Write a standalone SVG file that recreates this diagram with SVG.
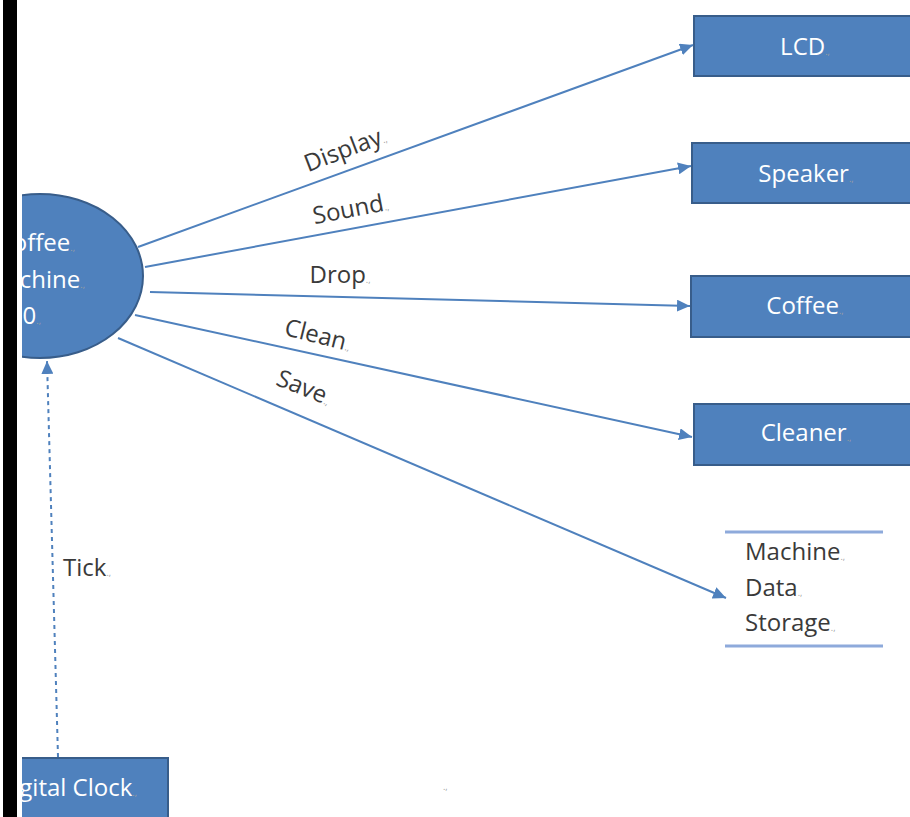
<svg xmlns="http://www.w3.org/2000/svg" width="910" height="817" viewBox="0 0 910 817">
  <style>
    .node { fill: #4F81BD; stroke: #385D8A; stroke-width: 2; }
    .ntxt { fill: #FFFFFF; font-family: "Open Sans", "Noto Sans", sans-serif; font-size: 24px; }
    .lbl { fill: #3A3A3A; font-family: "Open Sans", "Noto Sans", sans-serif; font-size: 24px; }
    .mark { fill: #A0A0A0; font-size: 9px; }
    .flow { stroke: #4F81BD; stroke-width: 2; fill: none; marker-end: url(#arrow); }
    .store { stroke: #8EAADB; stroke-width: 3; }
  </style>
  <defs>
    <marker id="arrow" markerWidth="14" markerHeight="12" refX="13" refY="6" orient="auto" markerUnits="userSpaceOnUse">
      <path d="M0,0 L13,6 L0,12 Z" fill="#4F81BD"/>
    </marker>
    <clipPath id="view">
      <rect x="22" y="0" width="888" height="817"/>
    </clipPath>
  </defs>
  <rect x="0" y="0" width="910" height="817" fill="#FFFFFF"/>

  <g clip-path="url(#view)">
    <g id="coffee-machine">
      <ellipse class="node" cx="40" cy="276" rx="103" ry="82"/>
      <text class="ntxt" x="75" y="251" text-anchor="end">Coffee<tspan class="mark">.,</tspan></text>
      <text class="ntxt" x="85" y="288" text-anchor="end">Machine<tspan class="mark">.,</tspan></text>
      <text class="ntxt" x="41" y="324" text-anchor="end">0<tspan class="mark">.,</tspan></text>
    </g>

    <g id="digital-clock">
      <rect class="node" x="-60" y="758" width="228" height="80"/>
      <text class="ntxt" x="137" y="796" text-anchor="end">Digital Clock<tspan class="mark">.,</tspan></text>
    </g>

    <g id="lcd">
      <rect class="node" x="694" y="16" width="240" height="60"/>
      <text class="ntxt" x="805" y="55" text-anchor="middle">LCD<tspan class="mark">.,</tspan></text>
    </g>
    <g id="speaker">
      <rect class="node" x="692" y="143" width="240" height="60"/>
      <text class="ntxt" x="806" y="182" text-anchor="middle">Speaker<tspan class="mark">.,</tspan></text>
    </g>
    <g id="coffee">
      <rect class="node" x="691" y="276" width="240" height="61"/>
      <text class="ntxt" x="805" y="314" text-anchor="middle">Coffee<tspan class="mark">.,</tspan></text>
    </g>
    <g id="cleaner">
      <rect class="node" x="694" y="404" width="240" height="61"/>
      <text class="ntxt" x="806" y="441" text-anchor="middle">Cleaner<tspan class="mark">.,</tspan></text>
    </g>

    <g id="machine-data-storage">
      <line class="store" x1="725" y1="532" x2="883" y2="532"/>
      <line class="store" x1="725" y1="646" x2="883" y2="646"/>
      <text class="lbl" x="745" y="560">Machine<tspan class="mark">.,</tspan></text>
      <text class="lbl" x="745" y="596">Data<tspan class="mark">.,</tspan></text>
      <text class="lbl" x="745" y="631">Storage<tspan class="mark">.,</tspan></text>
    </g>

    <g id="connectors">
      <line class="flow" x1="138" y1="247" x2="693" y2="45"/>
      <line class="flow" x1="145" y1="267" x2="691" y2="166"/>
      <line class="flow" x1="150" y1="292" x2="690" y2="306"/>
      <line class="flow" x1="135" y1="315" x2="692" y2="437"/>
      <line class="flow" x1="118" y1="338" x2="726" y2="598"/>
      <line class="flow" x1="58" y1="757" x2="47" y2="361" stroke-dasharray="4,4"/>
      <text class="lbl" transform="translate(348,157) rotate(-21)" text-anchor="middle">Display<tspan class="mark">.,</tspan></text>
      <text class="lbl" transform="translate(352,217) rotate(-11)" text-anchor="middle">Sound<tspan class="mark">.,</tspan></text>
      <text class="lbl" x="340" y="283" text-anchor="middle">Drop<tspan class="mark">.,</tspan></text>
      <text class="lbl" transform="translate(316,343) rotate(14)" text-anchor="middle">Clean<tspan class="mark">.,</tspan></text>
      <text class="lbl" transform="translate(301,395) rotate(22)" text-anchor="middle">Save<tspan class="mark">.,</tspan></text>
      <text class="lbl" x="63" y="576">Tick<tspan class="mark">.,</tspan></text>
    </g>
  </g>

  <text class="mark" x="443" y="790" font-family="'Open Sans', sans-serif">.,</text>
  <rect x="3" y="0" width="14" height="817" fill="#000000"/>
</svg>
